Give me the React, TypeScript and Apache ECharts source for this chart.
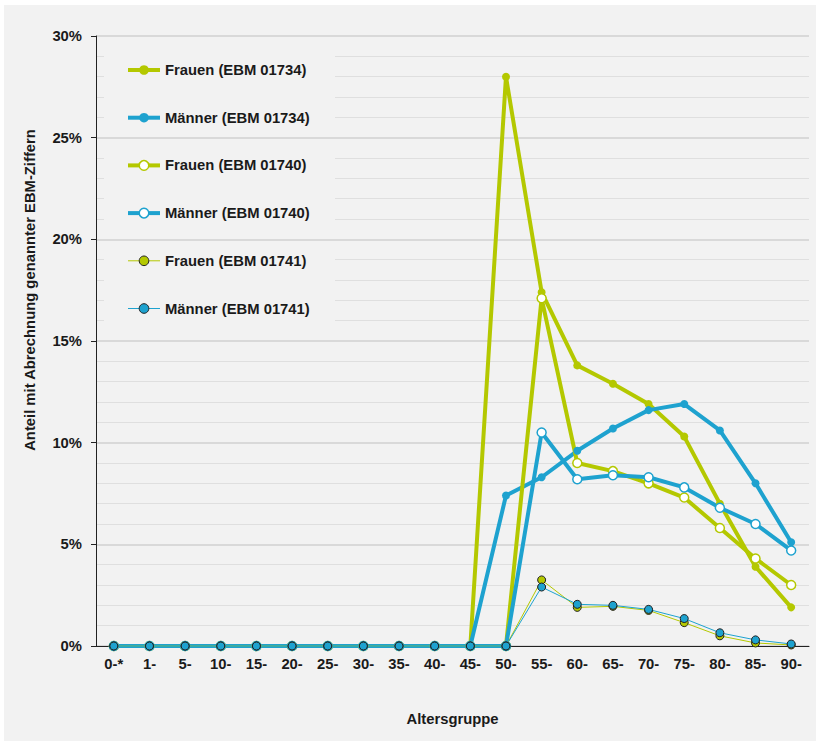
import React, { useEffect, useRef } from "react";
import * as echarts from "echarts";

const ageGroups = ["0-*", "1-", "5-", "10-", "15-", "20-", "25-", "30-", "35-", "40-", "45-", "50-", "55-", "60-", "65-", "70-", "75-", "80-", "85-", "90-"];

const frauen01734 = [0, 0, 0, 0, 0, 0, 0, 0, 0, 0, 0, 28.0, 17.4, 13.8, 12.9, 11.9, 10.3, 7.0, 3.9, 1.9];
const maenner01734 = [0, 0, 0, 0, 0, 0, 0, 0, 0, 0, 0, 7.4, 8.3, 9.6, 10.7, 11.6, 11.9, 10.6, 8.0, 5.1];
const frauen01740 = [0, 0, 0, 0, 0, 0, 0, 0, 0, 0, 0, 0, 17.1, 9.0, 8.6, 8.0, 7.3, 5.8, 4.3, 3.0];
const maenner01740 = [0, 0, 0, 0, 0, 0, 0, 0, 0, 0, 0, 0, 10.5, 8.2, 8.4, 8.3, 7.8, 6.8, 6.0, 4.7];
const frauen01741 = [0, 0, 0, 0, 0, 0, 0, 0, 0, 0, 0, 0, 3.25, 1.9, 1.95, 1.75, 1.15, 0.5, 0.15, 0.05];
const maenner01741 = [0, 0, 0, 0, 0, 0, 0, 0, 0, 0, 0, 0, 2.9, 2.05, 2.0, 1.8, 1.35, 0.65, 0.3, 0.1];

const seriesNames = [
  "Frauen (EBM 01734)",
  "Männer (EBM 01734)",
  "Frauen (EBM 01740)",
  "Männer (EBM 01740)",
  "Frauen (EBM 01741)",
  "Männer (EBM 01741)",
];

const GREEN = "#b4c800";
const BLUE = "#1ea2cf";
const DARK = "#1a1a1a";
const FONT = "'Liberation Sans', Arial, sans-serif";
const FS = 14.8;

export default function App() {
  const ref = useRef<HTMLDivElement>(null);

  useEffect(() => {
    document.body.style.margin = "0";
    if (!ref.current) return;
    const chart = echarts.init(ref.current, undefined, { renderer: "svg" });

    const thick = (name: string, data: number[], color: string, hollow: boolean) => ({
      name,
      type: "line",
      data,
      z: 3,
      symbol: "circle",
      symbolSize: hollow ? 9 : 8,
      showAllSymbol: true,
      lineStyle: { color, width: 4 },
      itemStyle: hollow
        ? { color: "#ffffff", borderColor: color, borderWidth: 1.5 }
        : { color, borderWidth: 0 },
      emphasis: { disabled: true },
    });
    const thin = (name: string, data: number[], color: string) => ({
      name,
      type: "line",
      data,
      z: 3,
      symbol: "circle",
      symbolSize: 8,
      showAllSymbol: true,
      lineStyle: { color, width: 1 },
      itemStyle: { color, borderColor: "#222222", borderWidth: 1 },
      emphasis: { disabled: true },
    });

    chart.setOption({
      animation: false,
      backgroundColor: "#ffffff",
      textStyle: { fontFamily: FONT },
      graphic: {
        elements: [
          {
            type: "rect",
            z: -10,
            shape: { x: 4, y: 5, width: 812, height: 736 },
            style: { fill: "#f2f2f2" },
            silent: true,
          },
          {
            type: "rect",
            z: 1,
            shape: { x: 104, y: 47, width: 231, height: 283 },
            style: { fill: "#f2f2f2" },
            silent: true,
          },
          {
            type: "text",
            z: 5,
            x: 30,
            y: 290,
            rotation: Math.PI / 2,
            style: {
              text: "Anteil mit Abrechnung genannter EBM-Ziffern",
              fontFamily: FONT,
              fontWeight: "bold",
              fontSize: FS,
              fill: DARK,
              textAlign: "center",
              textVerticalAlign: "middle",
            },
          },
        ],
      },
      legend: {
        orient: "vertical",
        left: 121,
        top: 57,
        padding: 5,
        itemWidth: 32,
        itemHeight: 12,
        itemGap: 31.7,
        textStyle: { fontFamily: FONT, fontWeight: "bold", fontSize: FS, color: DARK, lineHeight: 16 },
        data: [
          { name: seriesNames[0], lineStyle: { width: 4 } },
          { name: seriesNames[1], lineStyle: { width: 4 } },
          { name: seriesNames[2], lineStyle: { width: 4 }, itemStyle: { borderWidth: 1.5 } },
          { name: seriesNames[3], lineStyle: { width: 4 }, itemStyle: { borderWidth: 1.5 } },
          { name: seriesNames[4], lineStyle: { width: 1 }, itemStyle: { borderWidth: 1 } },
          { name: seriesNames[5], lineStyle: { width: 1 }, itemStyle: { borderWidth: 1 } },
        ],
        selectedMode: false,
      },
      grid: { left: 96, right: 7, top: 36, bottom: 95, containLabel: false },
      xAxis: {
        type: "category",
        data: ageGroups,
        boundaryGap: true,
        axisLine: { show: true, lineStyle: { color: "#222222", width: 1 } },
        axisTick: { show: false },
        axisLabel: { fontFamily: FONT, fontWeight: "bold", fontSize: FS, color: DARK, margin: 10 },
        splitLine: { show: false },
        name: "Altersgruppe",
        nameLocation: "middle",
        nameGap: 65,
        nameTextStyle: { fontFamily: FONT, fontWeight: "bold", fontSize: FS, color: DARK },
        z: 2,
      },
      yAxis: [
        {
          type: "value",
          position: "left",
          min: 0,
          max: 30,
          interval: 5,
          z: 2,
          axisLine: { show: true, lineStyle: { color: "#222222", width: 1 } },
          axisTick: { show: true, length: 5, lineStyle: { color: "#222222" } },
          axisLabel: { formatter: "{value}%", fontFamily: FONT, fontWeight: "bold", fontSize: FS, color: DARK, margin: 14 },
          splitLine: { show: true, lineStyle: { color: "#d9d9d9", width: 2 } },
        },
        {
          type: "value",
          position: "left",
          min: 0,
          max: 30,
          interval: 1,
          z: 0,
          axisLine: { show: false },
          axisTick: { show: false },
          axisLabel: { show: false },
          splitLine: { show: true, lineStyle: { color: "#dfdfdf", width: 1 } },
        },
      ],
      series: [
        thick(seriesNames[0], frauen01734, GREEN, false),
        thick(seriesNames[1], maenner01734, BLUE, false),
        thick(seriesNames[2], frauen01740, GREEN, true),
        thick(seriesNames[3], maenner01740, BLUE, true),
        thin(seriesNames[4], frauen01741, GREEN),
        thin(seriesNames[5], maenner01741, BLUE),
      ],
    });

    return () => chart.dispose();
  }, []);

  return <div ref={ref} style={{ width: 816, height: 741 }} />;
}
